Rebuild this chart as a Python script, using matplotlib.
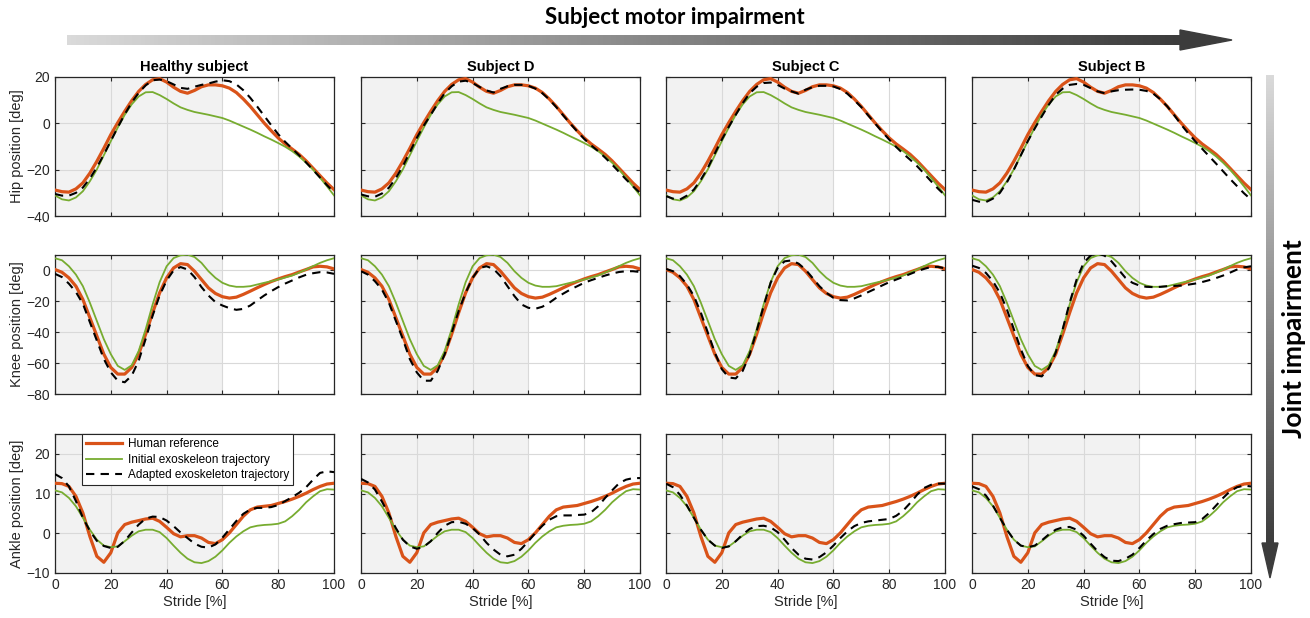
import matplotlib.pyplot as plt
import numpy as np
from matplotlib.colors import LinearSegmentedColormap
from matplotlib.patches import Polygon

plt.rcParams['font.family'] = 'Liberation Sans'
plt.rcParams['font.size'] = 10

# stride [%]
stride = [0, 2.5, 5, 7.5, 10, 12.5, 15, 17.5, 20, 22.5, 25, 27.5, 30, 32.5, 35, 37.5, 40,
          42.5, 45, 47.5, 50, 52.5, 55, 57.5, 60, 62.5, 65, 67.5, 70, 72.5, 75, 77.5, 80,
          82.5, 85, 87.5, 90, 92.5, 95, 97.5, 100]

subjects = ["Healthy subject", "Subject D", "Subject C", "Subject B"]

# hip [deg]
hip_ref = [-28.8, -29.5, -29.7, -28.3, -25.7, -21.5, -16.4, -10.8, -4.9, 0.3, 5.2, 9.8, 13.8,
           16.8, 18.8, 19.3, 17.8, 15.6, 13.8, 13.0, 14.2, 15.8, 16.6, 16.6, 16.2, 15.2, 13.3,
           10.5, 7.3, 3.7, 0.1, -3.2, -6.3, -8.9, -11.1, -13.4, -16.2, -19.4, -22.6, -25.8, -28.6]
hip_init = [-31.1, -32.8, -33.3, -32.0, -29.3, -25.0, -19.9, -13.8, -7.7, -1.8, 3.7, 8.2, 11.6,
            13.4, 13.5, 12.2, 10.5, 8.6, 6.9, 5.8, 4.9, 4.3, 3.7, 3.0, 2.3, 1.2, -0.1, -1.4,
            -2.7, -4.1, -5.6, -7.0, -8.5, -10.1, -12.0, -14.3, -17.0, -20.0, -23.5, -27.2, -31.1]
hip_adapt_healthy = [-30.5, -31.2, -31.2, -30.0, -27.7, -23.8, -19.0, -13.5, -7.6, -1.7, 3.9, 9.0,
                     13.2, 16.4, 18.6, 18.9, 18.2, 16.8, 15.3, 14.9, 15.8, 16.6, 17.2, 18.0, 18.6,
                     18.2, 16.8, 14.3, 11.0, 7.2, 3.2, -0.8, -4.7, -8.0, -10.9, -13.8, -16.9,
                     -20.1, -23.4, -26.7, -29.8]
hip_adapt_d = [-30.7, -31.5, -31.7, -30.3, -27.8, -23.6, -18.5, -12.5, -6.3, -1.0, 3.7, 8.6, 13.0,
               16.0, 18.0, 18.4, 17.4, 15.7, 14.2, 13.3, 14.9, 16.0, 16.6, 16.6, 16.2, 15.0, 13.0,
               10.3, 7.0, 3.4, -0.1, -3.5, -6.7, -9.5, -12.0, -14.8, -17.8, -21.0, -24.2, -27.2, -30.0]
hip_adapt_c = [-31.4, -32.5, -32.9, -31.2, -28.6, -24.3, -19.2, -13.0, -7.0, -1.5, 3.7, 8.7, 13.0,
               15.8, 17.4, 17.6, 16.6, 15.0, 13.8, 12.8, 14.5, 15.6, 16.2, 16.2, 15.9, 14.8, 12.8,
               10.0, 7.0, 3.4, -0.1, -3.7, -7.0, -10.2, -13.1, -15.7, -18.5, -21.7, -25.0, -28.2, -31.1]
hip_adapt_b = [-33.0, -33.8, -34.0, -32.5, -30.0, -25.5, -20.0, -13.8, -7.7, -2.2, 3.0, 8.0, 12.3,
               15.0, 16.6, 17.0, 16.6, 15.2, 13.8, 13.0, 13.8, 14.3, 14.5, 14.6, 14.5, 14.0, 12.8,
               10.4, 7.3, 3.5, -0.6, -4.3, -7.7, -11.0, -14.2, -17.4, -20.7, -24.0, -27.1, -30.2, -32.9]

# knee [deg]
knee_ref = [0.6, -1.2, -4.8, -10.2, -18.8, -30.6, -42.4, -54.2, -62.8, -67.1, -67.1, -62.8, -54.2,
            -41.3, -27.4, -14.5, -4.8, 1.6, 4.4, 3.8, -0.5, -5.9, -11.3, -14.9, -17.0, -17.9, -17.3,
            -15.5, -13.4, -11.2, -9.1, -7.2, -5.5, -4.0, -2.7, -1.0, 0.6, 2.3, 2.7, 2.3, 1.0]
knee_init = [7.9, 6.6, 2.7, -2.7, -10.2, -20.9, -32.7, -44.5, -54.2, -61.8, -64.4, -61.4, -52.1,
             -38.1, -22.0, -7.6, 2.7, 8.0, 9.8, 10.2, 8.7, 4.9, -0.5, -4.8, -8.0, -9.8, -10.6,
             -10.6, -10.2, -9.1, -8.0, -7.0, -5.9, -4.6, -3.3, -1.4, 0.6, 2.8, 4.9, 6.6, 7.9]
knee_adapt_healthy = [-2.2, -4.3, -8.6, -14.0, -21.6, -33.5, -45.4, -57.3, -66.0, -71.4, -72.4,
                      -68.1, -58.4, -44.3, -29.2, -16.2, -6.5, 0.0, 2.2, 0.6, -4.3, -10.8, -16.2,
                      -20.5, -22.7, -24.4, -25.5, -24.9, -22.7, -19.4, -16.2, -13.4, -10.8, -8.5,
                      -6.5, -4.5, -2.8, -1.8, -1.1, -1.3, -2.2]
knee_adapt_d = [-0.5, -2.7, -7.0, -12.4, -20.9, -32.7, -44.5, -57.4, -66.0, -71.4, -71.4, -65.0,
                -54.2, -40.3, -26.3, -14.5, -4.8, 1.6, 2.7, 1.0, -3.7, -10.2, -16.6, -22.0, -24.2,
                -24.8, -23.5, -20.9, -17.7, -15.0, -12.4, -10.2, -8.0, -6.3, -4.8, -3.3, -2.0,
                -1.0, -0.5, -0.5, -1.0]
knee_adapt_c = [1.0, -0.5, -3.7, -9.1, -16.6, -27.4, -40.3, -53.2, -63.9, -69.3, -69.9, -65.0,
                -54.2, -39.2, -23.1, -8.0, 1.6, 5.9, 6.5, 4.4, 0.6, -4.8, -10.2, -14.5, -17.7,
                -19.2, -19.4, -18.1, -16.2, -14.0, -11.9, -9.7, -7.6, -5.9, -4.2, -2.3, -0.5,
                1.0, 2.3, 2.3, 1.4]
knee_adapt_b = [3.1, 1.6, -1.6, -7.0, -14.5, -25.2, -38.1, -51.0, -61.8, -67.8, -68.6, -63.5,
                -53.2, -38.1, -20.9, -5.9, 4.9, 9.6, 10.9, 9.6, 5.9, 0.6, -4.8, -8.0, -9.8, -10.6,
                -10.8, -10.6, -10.2, -10.0, -9.8, -9.2, -8.5, -7.5, -6.3, -4.9, -3.3, -1.4, 0.6,
                2.0, 2.7]

# ankle [deg]
ankle_ref = [12.6, 12.5, 11.8, 9.3, 5.1, -0.8, -5.8, -7.3, -4.9, 0.1, 2.2, 2.8, 3.2, 3.6, 3.8,
             3.0, 1.5, -0.1, -0.9, -0.6, -0.6, -1.2, -2.3, -2.6, -1.6, 0.1, 2.2, 4.3, 5.9, 6.6,
             6.8, 7.0, 7.5, 8.0, 8.6, 9.3, 10.1, 11.0, 11.8, 12.4, 12.6]
ankle_init = [10.8, 10.3, 8.9, 6.8, 3.9, 0.9, -1.6, -3.1, -3.5, -3.3, -2.0, -0.6, 0.5, 0.9, 0.9,
              0.3, -1.2, -3.1, -4.9, -6.4, -7.3, -7.5, -7.0, -5.9, -4.3, -2.4, -0.8, 0.5, 1.5,
              1.9, 2.1, 2.2, 2.4, 3.0, 4.3, 5.9, 7.8, 9.3, 10.6, 11.1, 11.0]
ankle_adapt_healthy = [14.9, 13.9, 11.8, 8.1, 3.9, 0.6, -1.9, -3.2, -3.7, -3.4, -1.9, 0.2, 2.2,
                       3.7, 4.2, 4.1, 3.2, 1.8, 0.2, -1.2, -2.6, -3.4, -3.6, -2.8, -1.1, 1.0, 3.1,
                       4.9, 6.0, 6.4, 6.4, 6.6, 7.1, 8.1, 9.1, 10.2, 11.6, 13.5, 15.2, 15.6, 15.4]
ankle_adapt_d = [13.7, 12.8, 11.0, 8.0, 4.7, 1.3, -1.6, -3.3, -3.9, -3.4, -2.0, 0.1, 1.9, 2.8,
                 2.9, 2.4, 1.3, -0.3, -2.4, -4.1, -5.4, -5.8, -5.4, -3.9, -2.0, 0.1, 1.9, 3.4,
                 4.3, 4.5, 4.5, 4.6, 4.7, 5.3, 6.8, 8.9, 10.8, 12.6, 13.5, 13.9, 13.9]
ankle_adapt_c = [12.5, 11.6, 9.7, 7.0, 3.9, 0.9, -1.6, -3.1, -3.7, -3.3, -2.0, -0.3, 1.1, 1.8,
                 1.9, 1.5, 0.3, -1.6, -3.7, -5.4, -6.4, -6.6, -6.0, -4.8, -3.1, -1.2, 0.5, 1.8,
                 2.6, 3.0, 3.2, 3.4, 3.6, 4.4, 5.7, 7.6, 9.7, 11.4, 12.2, 12.5, 12.5]
ankle_adapt_b = [11.8, 11.1, 9.5, 7.0, 3.9, 0.9, -1.6, -3.1, -3.5, -3.1, -1.8, -0.3, 0.9, 1.5,
                 1.6, 0.9, -0.6, -2.6, -4.5, -6.0, -6.9, -7.0, -6.4, -5.4, -3.7, -1.8, -0.2, 1.1,
                 1.9, 2.3, 2.6, 2.7, 2.8, 3.6, 5.1, 7.0, 8.9, 10.6, 11.6, 12.0, 11.8]

joints = [
    ("Hip position [deg]", hip_ref, hip_init,
     [hip_adapt_healthy, hip_adapt_d, hip_adapt_c, hip_adapt_b], (-40, 20), [-40, -20, 0, 20]),
    ("Knee position [deg]", knee_ref, knee_init,
     [knee_adapt_healthy, knee_adapt_d, knee_adapt_c, knee_adapt_b], (-80, 10), [-80, -60, -40, -20, 0]),
    ("Ankle position [deg]", ankle_ref, ankle_init,
     [ankle_adapt_healthy, ankle_adapt_d, ankle_adapt_c, ankle_adapt_b], (-10, 25), [-10, 0, 10, 20]),
]

c_ref = '#D95319'
c_init = '#77AC30'
txt = '#262626'

fig = plt.figure(figsize=(13.1, 6.18), dpi=100)

# overlay for the two gradient arrows
ov = fig.add_axes([0, 0, 1, 1])
cmap = LinearSegmentedColormap.from_list('g', ['#dadada', '#3c3c3c'])
grad = np.linspace(0, 1, 256).reshape(1, -1)
ov.imshow(grad, extent=[67, 1182, 45, 35], cmap=cmap, aspect='auto')
ov.add_patch(Polygon([(1180, 30), (1232, 40), (1180, 50)], closed=True, color='#3c3c3c'))
ov.imshow(grad.T, extent=[1266, 1274, 545, 75], cmap=cmap, aspect='auto')
ov.add_patch(Polygon([(1262, 543), (1278, 543), (1270, 578)], closed=True, color='#3c3c3c'))
ov.text(675, 18, "Subject motor impairment", ha='center', va='center', fontsize=16,
        fontweight='bold', family='Lato', color='black')
ov.text(1294, 339, "Joint impairment", ha='center', va='center', rotation=90, fontsize=19,
        fontweight='bold', family='Lato', color='black')
ov.set_xlim(0, 1310)
ov.set_ylim(618, 0)
ov.axis('off')

lefts = [55, 361, 666, 972]
tops = [77, 255, 434]
w, h = 279, 139

for r, (ylab, ref, init, adapted, ylim, yticks) in enumerate(joints):
    for c in range(4):
        ax = fig.add_axes([lefts[c] / 1310, 1 - (tops[r] + h) / 618, w / 1310, h / 618])
        ax.axvspan(0, 60, color='#f2f2f2', zorder=0, lw=0)
        ax.plot(stride, ref, color=c_ref, lw=2.3, label="Human reference", zorder=3)
        ax.plot(stride, init, color=c_init, lw=1.3, label="Initial exoskeleon trajectory", zorder=3)
        ax.plot(stride, adapted[c], color='black', lw=1.5, ls=(0, (4, 3)),
                label="Adapted exoskeleton trajectory", zorder=4)
        ax.set_xlim(0, 100)
        ax.set_ylim(*ylim)
        ax.set_xticks([0, 20, 40, 60, 80, 100])
        ax.set_yticks(yticks)
        ax.grid(True, color='#d9d9d9', lw=0.8, zorder=1)
        ax.set_axisbelow(True)
        ax.tick_params(direction='in', top=True, right=True, length=3, colors=txt,
                       labelsize=10, width=0.8)
        for s in ax.spines.values():
            s.set_color(txt)
            s.set_linewidth(0.9)
        if r < 2:
            ax.set_xticklabels([])
        else:
            ax.set_xlabel("Stride [%]", color=txt, fontsize=10.5, labelpad=2)
        if c > 0:
            ax.set_yticklabels([])
        else:
            ax.set_ylabel(ylab, color=txt, fontsize=10.5, labelpad=2)
        if r == 0:
            ax.set_title(subjects[c], fontweight='bold', fontsize=10.5, pad=4)
        if r == 2 and c == 0:
            leg = ax.legend(loc='upper left', bbox_to_anchor=(0.098, 1.0), borderaxespad=0,
                            fontsize=8.5, fancybox=False, framealpha=1, edgecolor=txt,
                            handlelength=3.0, borderpad=0.35, labelspacing=0.3,
                            handletextpad=0.5)
            leg.get_frame().set_linewidth(0.8)

fig.savefig("out.png", dpi=100)
